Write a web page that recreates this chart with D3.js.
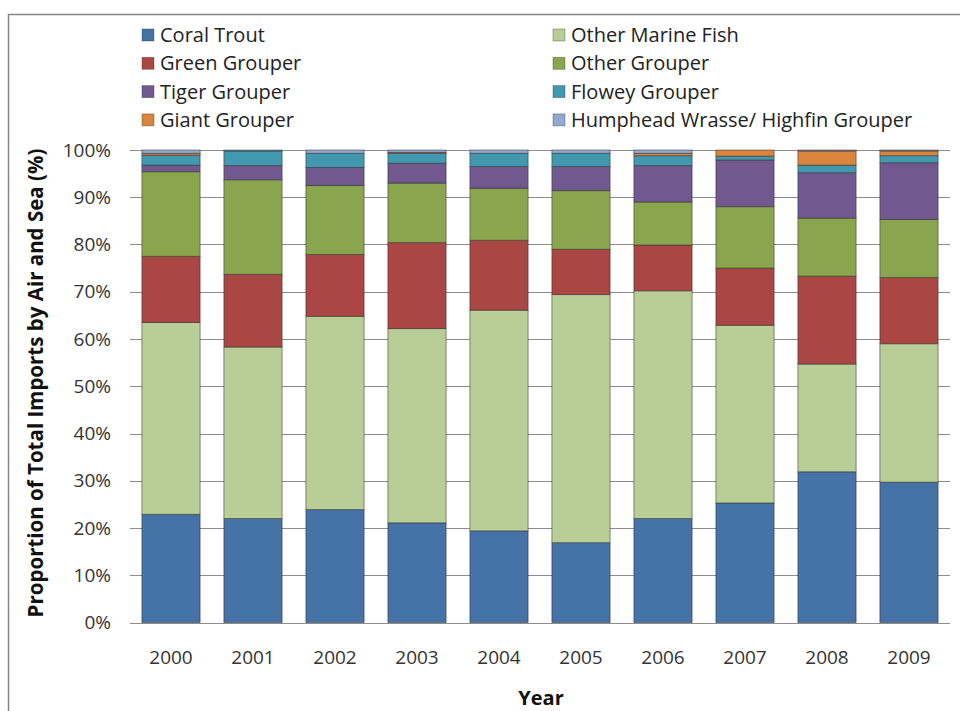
<!DOCTYPE html>
<html>
<head>
<meta charset="utf-8">
<script src="https://cdn.jsdelivr.net/npm/d3@7"></script>
<style>
  body { margin: 0; background: #fff; }
  svg { display: block; font-family: "Open Sans", sans-serif; }
</style>
</head>
<body>
<div id="app"></div>
<script>
const width = 960,
  height = 711;

const years = ["2000", "2001", "2002", "2003", "2004", "2005", "2006", "2007", "2008", "2009"];
const species = [
  "Coral Trout", "Other Marine Fish", "Green Grouper", "Other Grouper",
  "Tiger Grouper", "Flowey Grouper", "Giant Grouper", "Humphead Wrasse/ Highfin Grouper"
];
const colors = ["#4572A7", "#B9CD96", "#AA4643", "#89A54E", "#71588F", "#4198AF", "#DB843D", "#93A9CF"];

// percent of total imports, one array per species (2000..2009)
const coralTrout = [22.9, 22.0, 23.9, 21.1, 19.4, 16.9, 22.0, 25.3, 31.9, 29.7];
const otherMarine = [40.6, 36.3, 40.9, 41.1, 46.7, 52.5, 48.2, 37.6, 22.8, 29.3];
const greenGrouper = [14.0, 15.4, 13.1, 18.2, 14.8, 9.6, 9.7, 12.1, 18.6, 14.0];
const otherGrouper = [17.9, 20.0, 14.6, 12.6, 11.0, 12.4, 9.1, 13.0, 12.3, 12.3];
const tigerGrouper = [1.4, 3.0, 3.8, 4.2, 4.6, 5.1, 7.7, 9.9, 9.6, 12.0];
const floweyGrouper = [2.1, 3.1, 3.0, 2.1, 2.8, 2.8, 2.1, 0.8, 1.6, 1.5];
const giantGrouper = [0.4, 0, 0, 0.2, 0, 0, 0.5, 1.3, 3.0, 1.0];
const humphead = [0.7, 0.2, 0.7, 0.5, 0.7, 0.7, 0.7, 0, 0.2, 0.2];

const yTicks = [0, 10, 20, 30, 40, 50, 60, 70, 80, 90, 100];

const seriesValues = [coralTrout, otherMarine, greenGrouper, otherGrouper,
  tigerGrouper, floweyGrouper, giantGrouper, humphead];

const rows = years.map((yr, i) => {
  const row = { year: yr };
  species.forEach((s, j) => (row[s] = seriesValues[j][i]));
  return row;
});

const stacked = d3.stack().keys(species)(rows);

const x = d3.scaleBand().domain(years).range([130, 950]).paddingInner(0.29).paddingOuter(0.145);
const y = d3.scaleLinear().domain([0, 100]).range([622.5, 150]);
const color = d3.scaleOrdinal().domain(species).range(colors);

const svg = d3.select("#app").append("svg")
  .attr("width", width)
  .attr("height", height);

// chart frame
svg.append("rect")
  .attr("x", 8.5).attr("y", 14.5)
  .attr("width", 1000).attr("height", 1000)
  .attr("fill", "none")
  .attr("stroke", "#868686")
  .attr("stroke-width", 1.5);

// gridlines
svg.append("g")
  .selectAll("line")
  .data(yTicks)
  .join("line")
  .attr("x1", 130).attr("x2", 950)
  .attr("y1", d => Math.round(y(d)) + 0.5)
  .attr("y2", d => Math.round(y(d)) + 0.5)
  .attr("stroke", "#8c8c8c")
  .attr("stroke-width", 1);

// y tick labels
svg.append("g")
  .selectAll("text")
  .data(yTicks)
  .join("text")
  .attr("x", 111)
  .attr("y", d => y(d))
  .attr("dy", "0.35em")
  .attr("text-anchor", "end")
  .attr("font-size", 19)
  .attr("fill", "#333")
  .text(d => d + "%");

// bars
svg.append("g")
  .selectAll("g")
  .data(stacked)
  .join("g")
  .attr("fill", d => color(d.key))
  .selectAll("rect")
  .data(d => d.filter(p => p[1] - p[0] > 0))
  .join("rect")
  .attr("x", d => x(d.data.year))
  .attr("width", x.bandwidth())
  .attr("y", d => y(d[1]))
  .attr("height", d => y(d[0]) - y(d[1]))
  .attr("stroke", "rgba(40,40,40,0.55)")
  .attr("stroke-width", 0.9);

// x tick labels
svg.append("g")
  .selectAll("text")
  .data(years)
  .join("text")
  .attr("x", d => x(d) + x.bandwidth() / 2)
  .attr("y", 657)
  .attr("dy", "0.35em")
  .attr("text-anchor", "middle")
  .attr("font-size", 19)
  .attr("fill", "#333")
  .text(d => d);

// axis titles
svg.append("text")
  .attr("x", 541).attr("y", 698)
  .attr("dy", "0.35em")
  .attr("text-anchor", "middle")
  .attr("font-size", 20)
  .attr("font-weight", "bold")
  .attr("fill", "#111")
  .text("Year");

svg.append("text")
  .attr("transform", "translate(36,383) rotate(-90)")
  .attr("dy", "0.35em")
  .attr("text-anchor", "middle")
  .attr("font-size", 20.5)
  .attr("font-weight", "bold")
  .attr("fill", "#111")
  .text("Proportion of Total Imports by Air and Sea (%)");

// legend, two columns, filled row by row
const legend = svg.append("g")
  .selectAll("g")
  .data(species)
  .join("g")
  .attr("transform", (d, i) => `translate(${i % 2 ? 553 : 142},${35 + Math.floor(i / 2) * 28.3})`);

legend.append("rect")
  .attr("x", 0).attr("y", -6)
  .attr("width", 12).attr("height", 12)
  .attr("fill", d => color(d))
  .attr("stroke", "rgba(40,40,40,0.4)")
  .attr("stroke-width", 0.8);

legend.append("text")
  .attr("x", 18)
  .attr("dy", "0.35em")
  .attr("font-size", 20)
  .attr("fill", "#222")
  .text(d => d);
</script>
</body>
</html>
